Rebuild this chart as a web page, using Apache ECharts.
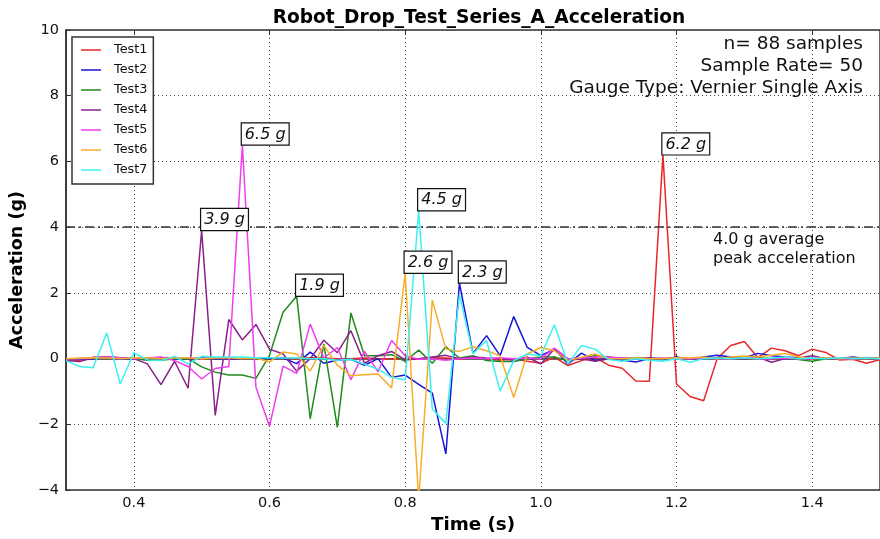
<!DOCTYPE html>
<html>
<head>
<meta charset="utf-8">
<script src="https://cdn.jsdelivr.net/npm/echarts@6/dist/echarts.min.js"></script>
<style>html,body{margin:0;padding:0;background:#fff}#chart{width:880px;height:539px}</style>
</head>
<body>
<div id="chart"></div>
<script>
var times = [0.30,0.32,0.34,0.36,0.38,0.40,0.42,0.44,0.46,0.48,
             0.50,0.52,0.54,0.56,0.58,0.60,0.62,0.64,0.66,0.68,
             0.70,0.72,0.74,0.76,0.78,0.80,0.82,0.84,0.86,0.88,
             0.90,0.92,0.94,0.96,0.98,1.00,1.02,1.04,1.06,1.08,
             1.10,1.12,1.14,1.16,1.18,1.20,1.22,1.24,1.26,1.28,
             1.30,1.32,1.34,1.36,1.38,1.40,1.42,1.44,1.46,1.48,1.50];

var test1 = [-0.03,-0.05,0.04,0.05,0.03,0.0,-0.02,0.02,0.03,0.0,
             0.0,0.02,0.0,0.0,0.02,0.0,0.02,0.0,0.03,0.02,
             0.0,0.0,0.02,0.0,0.0,-0.02,0.0,0.03,0.02,0.0,
             0.02,0.0,-0.05,0.0,-0.08,-0.14,0.05,-0.21,-0.06,0.04,
             -0.2,-0.29,-0.68,-0.69,6.2,-0.77,-1.15,-1.28,0.0,0.4,
             0.52,0.03,0.32,0.24,0.09,0.29,0.19,-0.04,-0.02,-0.14,-0.03];
var test2 = [0.0,-0.02,0.0,0.02,0.0,0.0,0.02,0.0,-0.02,0.0,
             0.02,0.0,0.0,0.0,0.02,0.0,0.02,-0.15,0.2,-0.14,
             -0.05,-0.02,-0.2,0.0,-0.57,-0.5,-0.78,-1.05,-2.9,2.3,
             0.16,0.7,0.09,1.28,0.34,0.09,0.29,-0.16,0.17,-0.06,
             0.0,-0.04,-0.1,0.0,-0.03,0.05,-0.02,0.05,0.1,0.05,
             0.03,0.16,0.09,0.05,0.03,0.0,0.02,0.0,0.05,0.0,0.02];
var test3 = [0.0,0.0,0.03,0.03,0.02,0.0,-0.05,-0.05,0.0,0.0,
             -0.25,-0.41,-0.5,-0.5,-0.6,0.1,1.41,1.9,-1.83,0.45,
             -2.09,1.39,0.09,0.09,0.12,-0.08,0.26,-0.14,0.36,0.02,
             0.09,-0.06,-0.09,-0.09,0.0,0.05,0.05,-0.06,0.03,0.09,
             0.05,0.0,0.02,0.0,0.0,0.02,0.0,0.03,0.0,0.02,
             0.0,0.03,0.0,0.02,-0.03,-0.08,0.0,0.02,0.0,0.03,0.0];
var test4 = [-0.06,-0.09,0.03,0.05,0.03,0.0,-0.16,-0.79,-0.08,-0.9,
             3.9,-1.73,1.19,0.57,1.04,0.29,0.14,-0.38,0.0,0.56,
             0.18,0.85,-0.14,0.09,0.22,-0.04,0.0,0.05,0.1,0.0,
             0.05,0.02,0.0,-0.05,0.05,-0.16,0.29,-0.05,0.0,-0.08,
             0.0,0.02,0.0,0.03,0.0,0.02,0.0,0.0,0.03,0.02,
             0.0,0.05,-0.11,0.0,0.02,0.09,0.0,0.03,0.02,0.0,0.02];
var test5 = [0.0,0.0,0.03,0.05,0.03,0.0,0.02,0.05,-0.06,-0.24,
             -0.62,-0.3,-0.24,6.5,-0.87,-2.06,-0.23,-0.45,1.05,0.02,
             0.34,-0.64,0.22,-0.4,0.55,0.09,-0.02,0.0,-0.05,0.0,
             0.02,0.0,0.03,0.0,0.02,0.0,0.32,0.0,0.02,0.05,
             0.05,0.02,0.0,0.0,0.02,0.0,0.0,0.02,0.0,0.0,
             0.02,0.0,0.0,0.02,0.0,0.0,0.02,0.0,0.0,0.02,0.0];
var test6 = [0.0,0.02,0.03,0.02,0.0,0.02,0.03,0.0,0.02,0.03,
             0.0,0.02,0.03,0.0,0.02,-0.1,0.2,0.14,-0.38,0.4,
             -0.2,-0.52,-0.49,-0.47,-0.89,2.6,-4.3,1.78,0.29,0.22,
             0.36,0.24,0.09,-1.18,0.14,0.34,0.24,-0.06,0.04,0.14,
             0.0,0.0,0.02,0.0,0.0,0.03,0.02,0.05,0.0,0.05,
             0.08,0.05,0.1,0.16,0.05,0.0,0.03,0.0,0.02,0.0,0.02];
var test7 = [-0.06,-0.24,-0.28,0.78,-0.77,0.18,-0.04,-0.06,0.07,-0.16,
             0.07,0.05,0.05,0.05,0.03,0.03,0.02,0.03,0.0,0.0,
             -0.05,-0.02,-0.17,-0.32,-0.57,-0.65,4.5,-1.53,-1.97,1.95,
             0.15,0.55,-0.99,-0.06,0.14,0.09,1.03,-0.16,0.4,0.29,
             -0.03,-0.08,0.0,-0.05,-0.08,0.0,-0.11,0.0,0.02,0.0,
             0.03,0.0,0.02,0.05,0.0,0.02,0.0,0.03,0.0,0.02,0.0];

var seriesNames = ['Test1','Test2','Test3','Test4','Test5','Test6','Test7'];
var seriesValues = [test1,test2,test3,test4,test5,test6,test7];
var seriesColors = ['#e8262a','#1515d8','#1f8a1f','#8a1f8a','#f03cf0','#f7ae2b','#3cf0f0'];

var avgPeak = 4.0;
var avgPeakText = '4.0 g average\npeak acceleration';
var titleText = 'Robot_Drop_Test_Series_A_Acceleration';
var infoLines = ['n= 88 samples','Sample Rate= 50','Gauge Type: Vernier Single Axis'];
var xLabel = 'Time (s)';
var yLabel = 'Acceleration (g)';

var FONT = 'DejaVu Sans';

function pairs(vals){ return vals.map(function(v,i){ return [times[i], v]; }); }
function peakPoint(vals){
  var mi = 0;
  for (var i=1;i<vals.length;i++){ if (vals[i] > vals[mi]) mi = i; }
  return {coord:[times[mi], vals[mi]], value: vals[mi]};
}

var series = seriesNames.map(function(name, si){
  var s = {
    name: name,
    type: 'line',
    data: pairs(seriesValues[si]),
    symbol: 'none',
    showSymbol: false,
    animation: false,
    clip: true,
    z: 2 + si,
    lineStyle: {color: seriesColors[si], width: 1.5},
    itemStyle: {color: seriesColors[si]},
    markPoint: {
      symbol: 'rect',
      symbolSize: 1,
      animation: false,
      itemStyle: {color: 'rgba(0,0,0,0)'},
      label: {
        show: true,
        position: [0, 0],
        align: 'left',
        verticalAlign: 'bottom',
        formatter: function(p){ return p.value.toFixed(1) + ' g'; },
        fontFamily: FONT,
        fontStyle: 'italic',
        fontSize: 16,
        lineHeight: 18,
        color: '#111',
        backgroundColor: '#fff',
        borderColor: '#111',
        borderWidth: 1.2,
        padding: [2, 3, 1, 3]
      },
      data: [peakPoint(seriesValues[si])],
      z: 20
    }
  };
  if (si === 0) {
    s.markLine = {
      silent: true,
      symbol: ['none','none'],
      animation: false,
      label: {show: false},
      lineStyle: {color: '#333', width: 1.5, type: [9, 4, 2, 4]},
      data: [{yAxis: avgPeak}]
    };
  }
  return s;
});

var chart = echarts.init(document.getElementById('chart'), null, {renderer: 'canvas'});
chart.setOption({
  animation: false,
  backgroundColor: '#fff',
  title: {
    text: titleText,
    left: 474,
    top: 4,
    textAlign: 'center',
    textStyle: {fontFamily: FONT, fontWeight: 'bold', fontSize: 18.6, color: '#000'}
  },
  grid: {
    left: 66, top: 30, width: 816, bottom: 48.3,
    show: true, borderColor: '#333', borderWidth: 1.5, backgroundColor: 'transparent'
  },
  legend: {
    orient: 'vertical',
    left: 72, top: 37,
    data: seriesNames,
    icon: 'rect',
    itemWidth: 20,
    itemHeight: 1.5,
    itemGap: 6,
    padding: [6, 6, 7, 9],
    borderColor: '#333',
    borderWidth: 1.5,
    backgroundColor: '#fff',
    textStyle: {fontFamily: FONT, fontSize: 12.8, color: '#111', lineHeight: 14, padding: [0,0,0,8]}
  },
  xAxis: [{
    type: 'value',
    min: 0.3, max: 1.5,
    splitNumber: 6,
    name: xLabel,
    nameLocation: 'middle',
    nameGap: 24,
    nameTextStyle: {fontFamily: FONT, fontWeight: 'bold', fontSize: 18.3, color: '#000'},
    axisLine: {show: true, lineStyle: {color: '#333', width: 1.5}},
    axisTick: {show: true, inside: true, length: 5, lineStyle: {color: '#333'}},
    axisLabel: {
      fontFamily: FONT, fontSize: 14.5, color: '#111', margin: 6,
      showMinLabel: false, showMaxLabel: false,
      formatter: function(v){ var r = Math.round(v*10); return (r % 2 === 0) ? (r/10).toFixed(1) : ''; }
    },
    splitLine: {show: true, lineStyle: {color: '#444', width: 1, type: [1, 3]}}
  }, {
    type: 'value',
    position: 'top',
    min: 0.3, max: 1.5,
    splitNumber: 6,
    axisLine: {show: false},
    axisTick: {show: true, inside: true, length: 5, lineStyle: {color: '#333'}},
    axisLabel: {show: false},
    splitLine: {show: false}
  }],
  yAxis: {
    type: 'value',
    min: -4, max: 10, interval: 2,
    name: yLabel,
    nameLocation: 'middle',
    nameGap: 33,
    nameRotate: 90,
    nameTextStyle: {fontFamily: FONT, fontWeight: 'bold', fontSize: 17.5, color: '#000', padding: [0, 20, 0, 0]},
    axisLine: {show: true, lineStyle: {color: '#333', width: 1.5}},
    axisTick: {show: true, inside: true, length: 5, lineStyle: {color: '#333'}},
    axisLabel: {
      fontFamily: FONT, fontSize: 14.5, color: '#111', margin: 7,
      formatter: function(v){ return String(v).replace('-', '\u2212'); }
    },
    splitLine: {show: true, lineStyle: {color: '#444', width: 1, type: [1, 3]}}
  },
  graphic: [
    {type: 'text', x: 863, y: 44, z: 50, style: {text: infoLines[0], font: '18.5px "DejaVu Sans"', fill: '#111', textAlign: 'right', textVerticalAlign: 'middle'}},
    {type: 'text', x: 863, y: 66.5, z: 50, style: {text: infoLines[1], font: '18.5px "DejaVu Sans"', fill: '#111', textAlign: 'right', textVerticalAlign: 'middle'}},
    {type: 'text', x: 863, y: 88, z: 50, style: {text: infoLines[2], font: '18.5px "DejaVu Sans"', fill: '#111', textAlign: 'right', textVerticalAlign: 'middle'}},
    {type: 'text', x: 713, y: 230, z: 50, style: {text: avgPeakText, font: '16px "DejaVu Sans"', lineHeight: 19, fill: '#111', textAlign: 'left', textVerticalAlign: 'top'}}
  ],
  series: series
});
</script>
</body>
</html>
